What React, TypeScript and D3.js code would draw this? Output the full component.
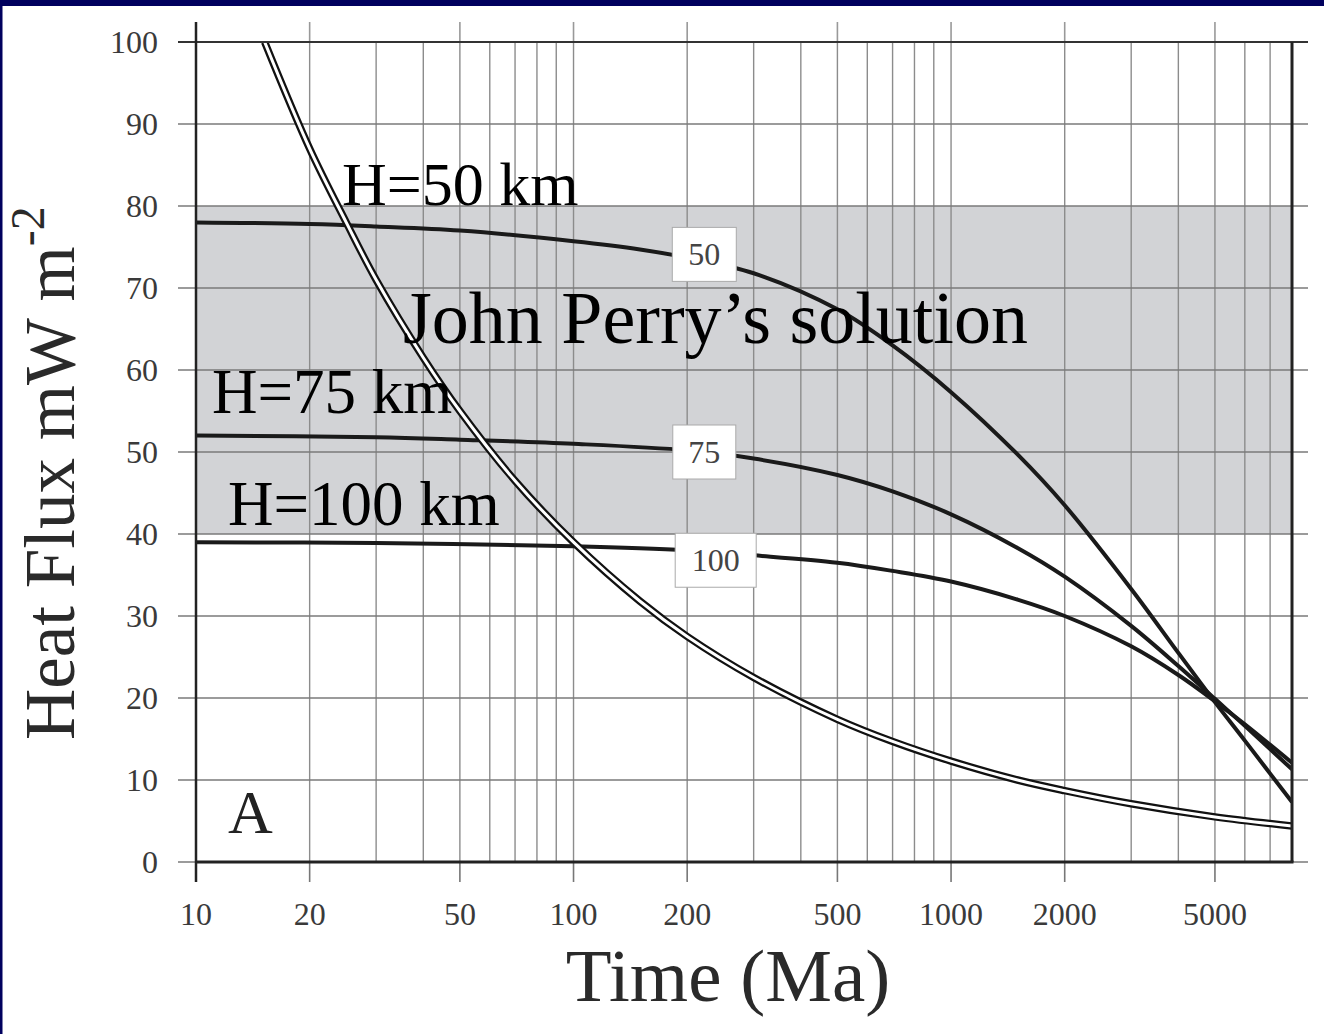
import * as d3 from "d3";

// values
const timeTicks = [10, 20, 50, 100, 200, 500, 1000, 2000, 5000];
const fluxTicks = [0, 10, 20, 30, 40, 50, 60, 70, 80, 90, 100];

// half-space cooling (double line)
const coolT = [15.2, 20, 25, 30, 40, 50, 70, 100, 150, 200, 300, 500, 700, 1000, 1500, 2000, 3000, 5000, 8000];
const coolQ = [100, 87, 78, 71, 61.5, 55, 46.5, 39, 31.8, 27.5, 22.5, 17.4, 14.7, 12.3, 10, 8.7, 7.1, 5.5, 4.4];

const h50T = [10, 20, 30, 50, 100, 150, 200, 300, 500, 700, 1000, 1500, 2000, 3000, 4000, 5000, 6000, 8000];
const h50Q = [78, 77.8, 77.5, 77, 75.7, 74.7, 73.7, 71.8, 67.4, 63, 57.3, 49.7, 43.5, 33.3, 25.5, 19.5, 14.8, 7.3];

const h75T = [10, 30, 50, 100, 200, 300, 500, 700, 1000, 1500, 2000, 3000, 4000, 5000, 6000, 8000];
const h75Q = [52, 51.8, 51.5, 51, 50.2, 49.2, 47.2, 45.2, 42.4, 38.3, 34.8, 28.8, 23.9, 19.9, 16.6, 11.3];

const h100T = [10, 30, 100, 200, 300, 500, 700, 1000, 1500, 2000, 3000, 4000, 5000, 6000, 8000];
const h100Q = [39, 38.9, 38.5, 38, 37.4, 36.5, 35.5, 34.2, 32, 30, 26.3, 22.8, 19.6, 16.8, 12.1];

const curveNames = ["50", "75", "100"];
const labelT = [222, 222, 238];
const labelQ = [74.1, 50, 36.8];
const labelW = [64, 63, 81];

const W = 1324;
const H = 1034;
const left = 196, right = 1292, top = 42, bottom = 862;
const serif = "'Liberation Serif', 'DejaVu Serif', serif";

export default function App() {
  const x = d3.scaleLog().domain([10, 8000]).range([left, right]);
  const y = d3.scaleLinear().domain([0, 100]).range([bottom, top]);

  const line = d3
    .line<[number, number]>()
    .x((d) => x(d[0]))
    .y((d) => y(d[1]))
    .curve(d3.curveCatmullRom.alpha(0.5));

  const zip = (ts: number[], qs: number[]) => ts.map((t, i) => [t, qs[i]] as [number, number]);
  const hCurves = [zip(h50T, h50Q), zip(h75T, h75Q), zip(h100T, h100Q)];
  const coolPath = line(zip(coolT, coolQ)) || "";

  // minor grid at every 1..9 multiple of each decade
  const gridT: number[] = [];
  [10, 100, 1000].forEach((dec) => {
    for (let k = 1; k <= 9; k++) {
      const v = dec * k;
      if (v > 10 && v < 8000) gridT.push(v);
    }
  });

  return (
    <svg
      width={W}
      height={H}
      style={{ position: "absolute", left: 0, top: 0, background: "#fff" }}
    >
      <rect x={0} y={0} width={W} height={H} fill="#fff" />
      {/* navy frame bits */}
      <rect x={0} y={0} width={W} height={6} fill="#00005e" />
      <rect x={0} y={0} width={2.5} height={H} fill="#00005e" />

      <defs>
        <clipPath id="plot">
          <rect x={left} y={top} width={right - left} height={bottom - top} />
        </clipPath>
      </defs>

      {/* shaded band 40-80 */}
      <rect x={left} y={y(80)} width={right - left} height={y(40) - y(80)} fill="#d2d3d6" />

      {/* grid */}
      {gridT.map((t) => (
        <line key={"gx" + t} x1={x(t)} x2={x(t)} y1={top} y2={bottom} stroke="#8c8c8c" strokeWidth={1.4} />
      ))}
      {fluxTicks.map((q) => (
        <line key={"gy" + q} x1={left - 18} x2={right + 16} y1={y(q)} y2={y(q)} stroke="#7a7a7a" strokeWidth={1.6} />
      ))}

      {/* ticks top / bottom */}
      {timeTicks.map((t) => (
        <g key={"tk" + t}>
          <line x1={x(t)} x2={x(t)} y1={bottom} y2={bottom + 20} stroke="#777" strokeWidth={1.6} />
          <line x1={x(t)} x2={x(t)} y1={top - 20} y2={top} stroke="#999" strokeWidth={1.6} />
        </g>
      ))}

      {/* curves */}
      <g clipPath="url(#plot)">
        {hCurves.map((c, i) => (
          <path key={"h" + i} d={line(c) || ""} fill="none" stroke="#1a1a1a" strokeWidth={4} />
        ))}
        <path d={coolPath} fill="none" stroke="#111" strokeWidth={7.5} />
        <path d={coolPath} fill="none" stroke="#fff" strokeWidth={3} />
      </g>

      {/* contour labels */}
      {curveNames.map((n, i) => {
        const cx = x(labelT[i]);
        const cy = y(labelQ[i]);
        return (
          <g key={"lb" + n}>
            <rect x={cx - labelW[i] / 2} y={cy - 27} width={labelW[i]} height={54} fill="#fff" stroke="#aaa" strokeWidth={1} />
            <text x={cx} y={cy + 11} textAnchor="middle" fontFamily={serif} fontSize={32} fill="#444">
              {n}
            </text>
          </g>
        );
      })}

      {/* frame */}
      <line x1={left - 18} x2={right + 16} y1={top} y2={top} stroke="#333" strokeWidth={2.2} />
      <line x1={left} x2={left} y1={top - 20} y2={bottom + 20} stroke="#222" strokeWidth={2.5} />
      <line x1={left} x2={right + 1.5} y1={bottom} y2={bottom} stroke="#222" strokeWidth={3} />
      <line x1={right} x2={right} y1={top} y2={bottom} stroke="#222" strokeWidth={3} />

      {/* tick labels */}
      {fluxTicks.map((q) => (
        <text key={"yl" + q} x={158} y={y(q) + 11} textAnchor="end" fontFamily={serif} fontSize={32} fill="#3a3a3a">
          {q}
        </text>
      ))}
      {timeTicks.map((t) => (
        <text key={"xl" + t} x={x(t)} y={925} textAnchor="middle" fontFamily={serif} fontSize={32} fill="#3a3a3a">
          {t}
        </text>
      ))}

      {/* axis titles */}
      <text x={728} y={1001} textAnchor="middle" fontFamily={serif} fontSize={75} fill="#2a2a2a">
        Time (Ma)
      </text>
      <text transform="translate(74,740) rotate(-90)" fontFamily={serif} fontSize={71} fill="#2a2a2a">
        Heat Flux mW m
        <tspan fontSize={48} dy={-30}>-2</tspan>
      </text>

      {/* annotations */}
      <text x={228} y={833} fontFamily={serif} fontSize={62} fill="#222">
        A
      </text>
      <text x={342} y={205} fontFamily={serif} fontSize={62} fill="#000">
        H=50 km
      </text>
      <text x={403} y={343} fontFamily={serif} fontSize={74} fill="#000">
        John Perry’s solution
      </text>
      <text x={212} y={413} fontFamily={serif} fontSize={63} fill="#000">
        H=75 km
      </text>
      <text x={228} y={525} fontFamily={serif} fontSize={63} fill="#000">
        H=100 km
      </text>
    </svg>
  );
}
